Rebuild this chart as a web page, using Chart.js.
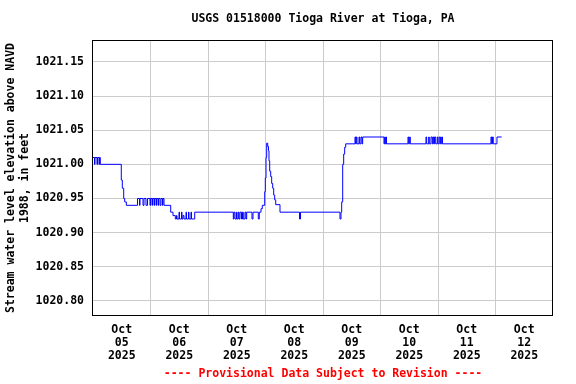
<!DOCTYPE html>
<html>
<head>
<meta charset="utf-8">
<script src="https://cdn.jsdelivr.net/npm/chart.js@4"></script>
<style>
html,body{margin:0;padding:0;background:#fff;}
canvas{display:block;}
</style>
</head>
<body>
<canvas id="c" width="576" height="384"></canvas>
<script>
// Hours since Oct 05 2025 00:00 and water level (ft above NAVD 1988)
const hours = [0,0.63,0.83,1.67,1.88,2.50,2.71,3.05,11.81,12.23,12.81,13.23,13.90,
18.57,19.41,19.62,20.87,21.29,22.12,22.75,23.79,24.00,24.63,24.83,25.46,25.67,26.30,26.50,27.13,27.34,27.97,28.38,29.01,29.22,29.64,
32.43,33.39,34.35,34.85,35.06,35.90,36.10,36.94,37.15,37.57,37.98,38.82,39.03,39.86,40.07,40.90,41.11,42.45,
58.56,58.85,59.27,59.89,60.10,60.64,60.94,61.35,61.98,62.40,62.73,63.44,63.86,64.15,66.36,66.78,68.99,69.41,
70.12,70.67,71.67,71.92,72.21,72.50,72.92,73.25,73.46,73.75,74.17,74.58,75.00,75.42,75.84,76.26,78.05,86.19,86.61,
103.09,103.51,103.80,104.22,104.63,105.05,105.47,
109.35,109.64,109.89,110.18,111.02,111.31,111.85,112.27,112.56,
121.45,121.74,121.99,122.29,122.50,131.47,131.76,132.18,132.43,
138.98,139.27,140.11,140.36,141.07,141.62,141.90,142.20,142.53,143.03,143.70,143.99,144.53,145.03,145.53,145.87,
166.11,166.40,166.74,167.07,168.61,170.58];
const levels = [1021.01,1021.00,1021.01,1021.00,1021.01,1021.00,1021.01,1021.00,1020.977,1020.965,1020.95,1020.945,1020.94,
1020.95,1020.94,1020.95,1020.94,1020.95,1020.94,1020.95,1020.94,1020.95,1020.94,1020.95,1020.94,1020.95,1020.94,1020.95,1020.94,1020.95,1020.94,1020.95,1020.94,1020.95,1020.94,
1020.93,1020.925,1020.92,1020.925,1020.92,1020.93,1020.92,1020.93,1020.92,1020.925,1020.92,1020.93,1020.92,1020.93,1020.92,1020.93,1020.92,1020.93,
1020.92,1020.93,1020.92,1020.93,1020.92,1020.93,1020.92,1020.93,1020.92,1020.93,1020.92,1020.93,1020.92,1020.93,1020.92,1020.93,1020.92,1020.93,
1020.935,1020.94,1020.96,1020.98,1021.01,1021.031,1021.026,1021.02,1021.005,1020.99,1020.982,1020.972,1020.965,1020.955,1020.948,1020.941,1020.93,1020.92,1020.93,
1020.92,1020.93,1020.945,1021.00,1021.015,1021.025,1021.03,
1021.04,1021.03,1021.04,1021.03,1021.04,1021.03,1021.04,1021.03,1021.04,
1021.03,1021.04,1021.03,1021.04,1021.03,1021.04,1021.03,1021.04,1021.03,
1021.04,1021.03,1021.04,1021.03,1021.04,1021.03,1021.04,1021.03,1021.04,1021.03,1021.04,1021.03,1021.04,1021.03,1021.04,1021.03,
1021.04,1021.03,1021.04,1021.03,1021.04,1021.04];

const yTicks = [1020.80,1020.85,1020.90,1020.95,1021.00,1021.05,1021.10,1021.15];
const dayLabels = ['05','06','07','08','09','10','11','12'];
const monthLabel = 'Oct';
const yearLabel = '2025';
const titleText = 'USGS 01518000 Tioga River at Tioga, PA';
const yTitle = ['Stream water level elevation above NAVD', '1988, in feet'];
const footerText = '---- Provisional Data Subject to Revision ----';

const FONT = '"DejaVu Sans Mono", "Liberation Mono", monospace';
const points = hours.map((h, i) => ({x: h, y: levels[i]}));

const frame = {
  id: 'frame',
  afterDraw(chart) {
    const a = chart.chartArea, ctx = chart.ctx;
    ctx.save();
    ctx.strokeStyle = '#000';
    ctx.lineWidth = 1;
    ctx.strokeRect(Math.round(a.left) - 0.5, Math.round(a.top) + 0.5, Math.round(a.right - a.left), Math.round(a.bottom - a.top) - 1);
    ctx.restore();
  }
};

new Chart(document.getElementById('c'), {
  type: 'line',
  data: {
    datasets: [{
      data: points,
      borderColor: '#0000ff',
      borderWidth: 1,
      pointRadius: 0,
      stepped: true,
      fill: false
    }]
  },
  options: {
    responsive: false,
    animation: false,
    layout: {padding: {left: 0, right: 23, top: 0, bottom: 0}},
    plugins: {
      legend: {display: false},
      tooltip: {enabled: false},
      title: {
        display: true, text: titleText, fullSize: false, color: '#000',
        font: {family: FONT, size: 11.5, weight: 'bold', lineHeight: 1.2},
        padding: {top: 12, bottom: 14.2}
      },
      subtitle: {
        display: true, text: footerText, position: 'bottom', fullSize: false, color: '#ff0000',
        font: {family: FONT, size: 11.5, weight: 'bold', lineHeight: '14px'},
        padding: {top: 2, bottom: 2.5}
      }
    },
    scales: {
      x: {
        type: 'linear', min: 0, max: 192,
        afterBuildTicks: s => { s.ticks = []; for (let i = 0; i < dayLabels.length; i++) { s.ticks.push({value: 12 + 24 * i}); if (i < dayLabels.length - 1) s.ticks.push({value: 24 + 24 * i}); } },
        afterFit: s => { s.height = 49.5; },
        grid: {
          drawTicks: false,
          color: c => (c.tick && c.tick.value % 24 === 0) ? '#cccccc' : 'rgba(0,0,0,0)',
          lineWidth: 1
        },
        border: {display: false},
        ticks: {
          autoSkip: false, maxRotation: 0, minRotation: 0, padding: 8.1, color: '#000',
          font: {family: FONT, size: 11.5, weight: 'bold', lineHeight: '12.8px'},
          callback: v => (v % 24 === 12) ? [monthLabel, dayLabels[Math.floor(v / 24)], yearLabel] : ''
        }
      },
      y: {
        type: 'linear', min: 1020.778, max: 1021.182,
        afterBuildTicks: s => { s.ticks = yTicks.map(v => ({value: v})); },
        afterFit: s => { s.width = 93; },
        grid: {drawTicks: false, color: '#cccccc', lineWidth: 1},
        border: {display: false},
        ticks: {
          padding: 9, color: '#000',
          font: {family: FONT, size: 11.5, weight: 'bold'},
          callback: v => Number(v).toFixed(2)
        },
        title: {
          display: true, text: yTitle, color: '#000',
          font: {family: FONT, size: 11.5, weight: 'bold', lineHeight: '14px'},
          padding: {top: 4, bottom: 0}
        }
      }
    }
  },
  plugins: [frame]
});
</script>
</body>
</html>
